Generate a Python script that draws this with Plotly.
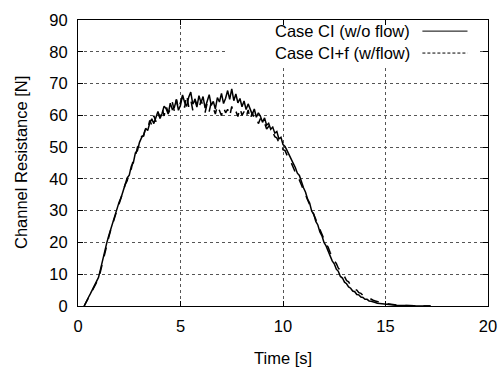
import plotly.graph_objects as go

# sampling grid of the recorded data
t_start = 0.3
t_step = 0.1

# Case CI (w/o flow) channel resistance [N]
ci = [0.0, 1.5, 2.6, 3.8, 5.0, 6.2, 7.5, 9.0, 11.6, 14.5,
      17.2, 19.8, 22.1, 24.3, 26.2, 28.5, 30.4, 32.6, 34.1, 36.2,
      38.0, 40.3, 41.2, 44.0, 45.1, 48.2, 48.9, 51.5, 53.0, 53.8,
      55.9, 55.2, 57.6, 58.9, 57.4, 59.1, 61.2, 59.0, 60.6, 62.9,
      62.1, 60.4, 63.8, 61.9, 62.5, 64.9, 61.6, 63.2, 66.4, 64.1,
      62.8, 65.7, 67.3, 63.5, 64.8, 62.6, 66.2, 64.0, 65.9, 62.3,
      64.7, 66.5, 63.1, 64.4, 62.0, 65.6, 64.2, 66.9, 63.7, 65.4,
      67.8, 65.0, 68.3, 64.6, 66.7, 63.9, 65.3, 62.7, 64.5, 61.8,
      63.6, 62.2, 60.3, 62.0, 59.4, 60.8, 59.7, 57.8, 59.2, 56.9,
      57.5, 55.6, 56.3, 54.4, 54.9, 52.6, 53.1, 50.8, 50.2, 48.9,
      47.4, 46.2, 44.9, 43.6, 41.8, 41.1, 38.9, 37.2, 35.8, 33.6,
      32.4, 29.8, 28.9, 26.6, 25.5, 23.3, 22.1, 20.0, 18.9, 17.1,
      16.0, 14.2, 13.3, 11.6, 10.9, 9.3, 8.8, 7.5, 7.0, 6.0,
      5.6, 4.7, 4.5, 3.6, 3.5, 2.8, 2.7, 2.1, 2.1, 1.6,
      1.5, 1.2, 1.1, 0.9, 0.8, 0.7, 0.6, 0.55, 0.45, 0.4,
      0.3, 0.3, 0.25, 0.2, 0.15, 0.15, 0.1, 0.1, 0.06, 0.05,
      0.05, 0.04, 0.03, 0.03, 0.02, 0.02, 0.01, 0.01, 0.0, 0.0]

# Case CI+f (w/flow) channel resistance [N]
cif = [0.0, 1.2, 2.4, 3.5, 4.9, 6.0, 7.2, 8.6, 11.0, 13.9,
       16.8, 19.4, 21.6, 24.0, 25.8, 28.0, 30.1, 32.0, 34.3, 35.8,
       38.2, 39.4, 42.3, 43.1, 46.2, 47.0, 50.0, 50.6, 53.4, 53.5,
       56.2, 55.8, 58.4, 56.9, 59.9, 58.0, 61.0, 59.2, 62.3, 59.8,
       63.0, 60.7, 61.8, 64.2, 61.3, 65.0, 62.0, 64.1, 65.9, 62.4,
       66.5, 62.7, 64.9, 61.6, 65.2, 63.3, 61.9, 64.8, 63.0, 60.9,
       63.8, 61.2, 64.1, 62.3, 60.4, 63.2, 61.5, 59.9, 62.6, 60.8,
       61.9, 59.7, 62.8, 60.5, 61.3, 59.6, 62.4, 60.0, 61.2, 59.3,
       61.7, 58.6, 60.9, 58.9, 59.3, 57.4, 59.0, 57.1, 57.6, 55.7,
       56.5, 54.9, 54.8, 53.3, 52.9, 51.4, 51.3, 49.2, 48.9, 47.4,
       46.6, 45.0, 43.9, 42.1, 41.2, 39.4, 38.1, 36.5, 35.0, 33.4,
       31.9, 30.3, 28.6, 27.2, 25.4, 24.2, 22.4, 21.3, 19.5, 18.5,
       16.8, 15.9, 14.2, 13.4, 11.9, 11.2, 9.8, 9.3, 8.0, 7.6,
       6.5, 6.2, 5.2, 5.0, 4.2, 4.0, 3.3, 3.2, 2.6, 2.5,
       2.1, 1.8, 1.6, 1.3, 1.2, 1.0, 0.9, 0.7, 0.6, 0.5,
       0.45, 0.35, 0.3, 0.25, 0.2, 0.15, 0.1, 0.1, 0.07, 0.05,
       0.05, 0.04, 0.03, 0.03, 0.02, 0.02, 0.01, 0.01, 0.0, 0.0]

t_ci = [round(t_start + t_step * i, 2) for i in range(len(ci))]
t_cif = [round(t_start + t_step * i, 2) for i in range(len(cif))]

x_ticks = [0, 5, 10, 15, 20]
y_ticks = [0, 10, 20, 30, 40, 50, 60, 70, 80, 90]
labels = ["Case CI (w/o flow)", "Case CI+f (w/flow)"]
x_title = "Time [s]"
y_title = "Channel Resistance [N]"

FONT = "Liberation Sans, Arial, Helvetica, sans-serif"
FS = 16.5

fig = go.Figure()
fig.add_trace(go.Scatter(x=t_cif, y=cif, mode="lines", name=labels[1],
                         line=dict(color="black", width=1.5, dash="dash")))
fig.add_trace(go.Scatter(x=t_ci, y=ci, mode="lines", name=labels[0],
                         line=dict(color="black", width=1.5)))

axis_common = dict(showline=True, mirror="ticks", linecolor="black", linewidth=1,
                   ticks="inside", ticklen=5, tickcolor="black", automargin=False,
                   showgrid=True, gridcolor="#555555", griddash="dot", gridwidth=1,
                   zeroline=False, tickfont=dict(size=FS, color="black", family=FONT))

fig.update_xaxes(range=[0, 20], tickvals=x_ticks, ticklabelstandoff=5, **axis_common)
fig.update_yaxes(range=[0, 90], tickvals=y_ticks, ticklabelstandoff=6, **axis_common)

# axis titles
fig.add_annotation(x=0.5, y=0, xref="paper", yref="paper", text=x_title, showarrow=False,
                   xanchor="center", yanchor="middle", yshift=-52,
                   font=dict(size=FS, color="black", family=FONT))
fig.add_annotation(x=0, y=0.5, xref="paper", yref="paper", text=y_title, showarrow=False,
                   xanchor="center", yanchor="middle", xshift=-57, textangle=-90,
                   font=dict(size=FS, color="black", family=FONT))

# legend box (white, covers grid) and key entries
fig.add_shape(type="rect", xref="x", yref="y", x0=7.2, x1=19.5, y0=75.6, y1=90,
              fillcolor="white", line=dict(width=0), layer="between")
key_y = [86.5, 79.6]
key_dash = ["solid", "3px,2px"]
for lab, ky, kd in zip(labels, key_y, key_dash):
    fig.add_annotation(x=16.3, y=ky, xref="x", yref="y", text=lab, showarrow=False,
                       xanchor="right", yanchor="middle",
                       font=dict(size=FS, color="black", family=FONT))
    fig.add_shape(type="line", xref="x", yref="y", x0=16.8, x1=19.0, y0=ky, y1=ky,
                  line=dict(color="black", width=1, dash=kd))

fig.update_layout(width=502, height=367, margin=dict(l=78, r=14, t=20, b=61),
                  plot_bgcolor="white", paper_bgcolor="white", showlegend=False,
                  font=dict(family=FONT, color="black"))

fig.write_html("out.html")
